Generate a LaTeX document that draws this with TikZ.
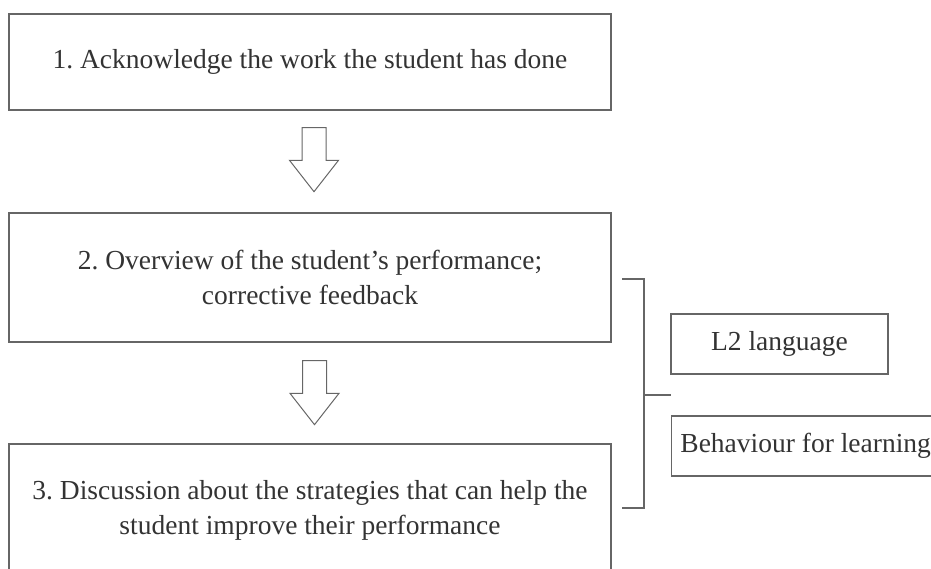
\documentclass[tikz,border=0pt]{standalone}
\usepackage{fontspec}
\setmainfont{Liberation Serif}
\usetikzlibrary{shapes.arrows,calc}
\frenchspacing

\begin{document}
\begin{tikzpicture}[x=1pt,y=-1pt,line width=1.3pt,
  stepbox/.style={draw=black!60,text=black!80,align=center,inner sep=0pt,
    minimum width=602pt,font=\fontsize{27.5}{35}\selectfont},
  sidebox/.style={draw=black!60,text=black!80,inner sep=0pt,
    minimum height=60pt,font=\fontsize{27.5}{35}\selectfont},
  blockarrow/.style={single arrow,draw=black!60,line width=1pt,rotate=-90,
    minimum height=64pt,minimum width=48pt,inner sep=11.5pt,
    single arrow head extend=12.5pt,single arrow tip angle=76}]

\useasboundingbox (0,0) rectangle (931,569);
\clip (0,0) rectangle (931,569);

% steps
\node[stepbox,minimum height=96pt] (S1) at (310,62) {1. Acknowledge the work the student has done};
\node[stepbox,minimum height=129pt] (S2) at (310,277.5) {2. Overview of the student’s performance;\\corrective feedback};
\node[stepbox,minimum height=132pt] (S3) at (310,510) {3. Discussion about the strategies that can help the\\student improve their performance};

% arrows between steps
\node[blockarrow] (A1) at (314,152) {};
\node[blockarrow] (A2) at (314.5,385) {};

% side boxes
\node[sidebox,minimum width=217pt] (L1) at (779.5,344) {L2 language};
\node[sidebox,minimum width=268pt,anchor=west] (L2) at (671,446) {Behaviour for learning};

% bracket
\coordinate (Btop) at (622,279);
\coordinate (Bbot) at (622,508);
\coordinate (Bmid) at ($(L1.south west)!0.5!(L2.north west)$);
\draw[black!60] (Btop) -| (644,508) -- (Bbot);
\draw[black!60] (Bmid -| 644,0) -- (Bmid);

\end{tikzpicture}
\end{document}
